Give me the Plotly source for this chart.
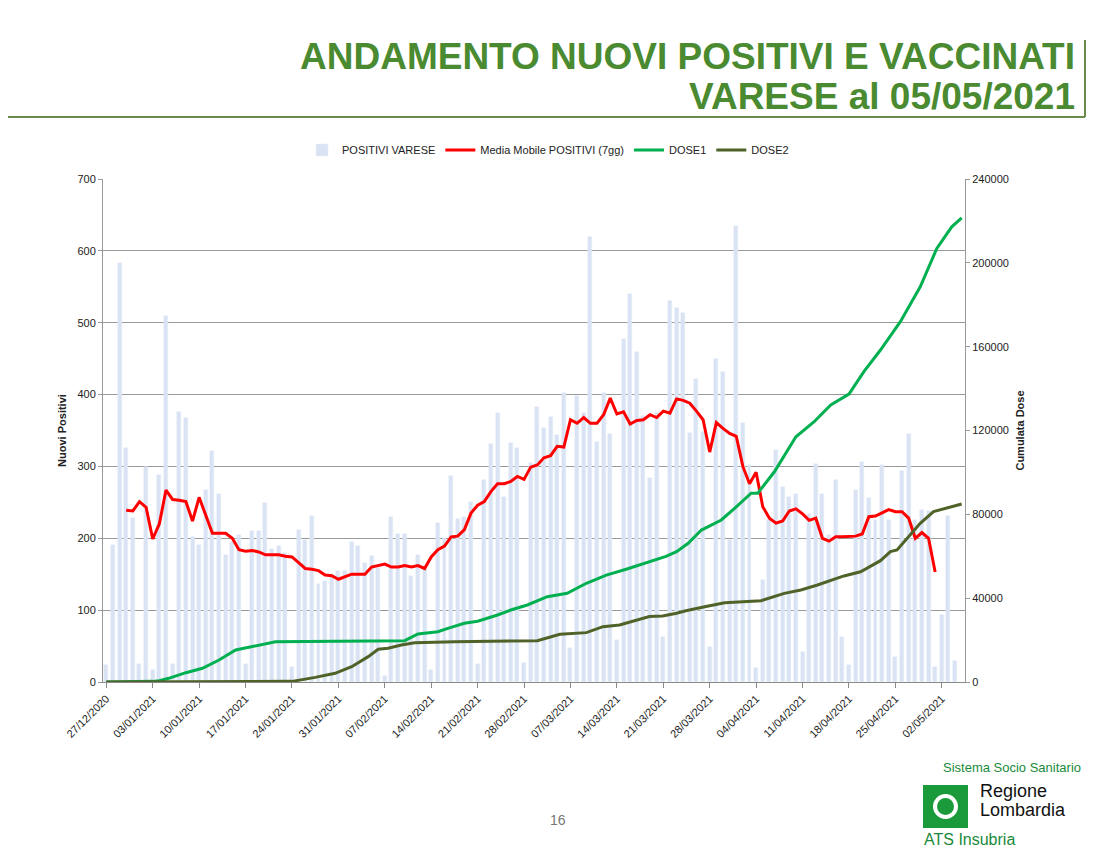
import plotly.graph_objects as go
import pandas as pd

base = pd.Timestamp("2020-12-27")

positivi = [24,191,583,326,228,25,299,17,288,509,25,376,367,202,190,267,321,261,177,195,
            204,25,210,210,249,185,189,180,21,211,198,231,136,140,150,155,155,195,189,166,
            175,158,8,230,206,206,148,177,160,17,221,200,287,227,230,250,25,281,331,374,
            257,333,326,27,305,383,354,369,344,402,47,398,374,619,334,402,345,58,477,540,
            459,370,284,374,62,530,521,514,347,421,348,49,449,431,197,634,361,302,20,142,
            225,323,272,257,261,42,234,303,261,205,281,62,24,267,306,256,225,302,225,35,
            294,345,225,240,238,21,93,231,29]

media_start = 3
media = [239,238,251,243,199,220,267,254,253,251,224,257,232,207,207,207,200,184,182,183,
         181,177,177,177,175,174,166,158,157,155,149,148,143,147,150,150,150,160,162,164,
         160,160,162,160,162,158,174,184,189,202,203,212,235,246,251,265,276,276,279,286,
         282,299,302,312,315,328,327,365,360,368,360,360,372,395,373,376,359,364,365,372,
         368,377,374,394,392,388,377,365,320,361,353,346,342,300,276,292,244,228,221,224,
         238,241,234,225,228,200,196,202,202,202,203,206,230,231,235,240,237,237,228,200,
         208,200,153]

dose1_days = [0,4,7,8,9.4,12,14.5,17,19.5,21.5,25.5,35,42.5,45,47,50,51.5,54,56,59,61,63.5,66.5,69.5,
              72.4,75.4,78.4,81.4,84.4,86,87.75,89.75,92.75,94.75,97.25,98.25,100.75,104,106.75,
              109.25,112,114.25,116.75,119.75,122.75,125.25,127.5,129]
dose1_vals = [0,100,300,600,1760,4440,6530,10500,15270,16550,19230,19500,19560,19700,22900,24000,25600,
              28000,29000,31970,34350,36740,40700,42300,47100,51000,53800,56700,59900,62200,66200,
              72500,77300,82900,90100,90100,100300,117000,124200,132200,137400,148100,158400,
              171900,188600,206900,217200,221500]

dose2_days = [0,28,31.5,34.5,37,39.5,41,42.5,44.5,46.5,52.5,65,68.4,72.4,74.9,77.4,81.9,83.9,86,87.4,
              90.25,93.25,98.75,102.25,104.75,107.25,111.25,113.75,116.75,118.25,119.25,122.75,
              124.75,129]
dose2_vals = [0,300,2200,4150,7300,12100,15600,16100,17650,18750,19230,19700,22750,23550,26400,
              27200,31200,31500,32800,34000,35900,37800,38800,42300,43900,46300,50600,52600,57900,
              62200,63000,75700,81300,84900]

tick_days = list(range(0, 127, 7))

def d(x):
    return base + pd.to_timedelta(x, unit="D")

W, H, OFF = 1097, 857, 8
def px(x): return (x - OFF) / W
def py(y): return 1 - (y - OFF) / H

fig = go.Figure()
fig.add_bar(x=[d(i) for i in range(len(positivi))], y=positivi, name="POSITIVI VARESE",
            marker_color="#dae3f3", width=0.6*86400000, yaxis="y")
fig.add_scatter(x=[d(media_start+i) for i in range(len(media))], y=media, mode="lines",
                name="Media Mobile POSITIVI (7gg)", line=dict(color="#ff0000", width=3), yaxis="y")
fig.add_scatter(x=[d(v) for v in dose1_days], y=dose1_vals, mode="lines", name="DOSE1",
                line=dict(color="#00b050", width=3), yaxis="y2")
fig.add_scatter(x=[d(v) for v in dose2_days], y=dose2_vals, mode="lines", name="DOSE2",
                line=dict(color="#4f6228", width=3), yaxis="y2")

fig.update_layout(
    width=W, height=H, paper_bgcolor="white", plot_bgcolor="white",
    margin=dict(l=0, r=0, t=0, b=0),
    font=dict(family="Liberation Sans, Arial", size=11, color="#222"),
    showlegend=True, bargap=0,
    legend=dict(orientation="h", x=px(548), xanchor="center", y=py(150), yanchor="middle",
                font=dict(size=11), bgcolor="rgba(0,0,0,0)"),
    xaxis=dict(domain=[px(103), px(965)], range=[d(-0.5), d(129.5)], automargin=False,
               tickvals=[d(t) for t in tick_days],
               ticktext=[d(t).strftime("%d/%m/%Y") for t in tick_days],
               tickangle=-45, showgrid=False, showline=True, linecolor="#888",
               ticks="outside", ticklen=5, tickcolor="#888", anchor="y"),
    yaxis=dict(domain=[py(682), py(179)], range=[0, 700], dtick=100, automargin=False,
               showgrid=True, gridcolor="#999", gridwidth=1, showline=True, linecolor="#999",
               ticks="outside", tickcolor="#999", ticklen=4,
               title=dict(text="<b>Nuovi Positivi</b>", font=dict(size=11), standoff=8)),
    yaxis2=dict(overlaying="y", side="right", range=[0, 240000], dtick=40000, automargin=False,
                showgrid=False, showline=True, linecolor="#999", tickformat="d",
                ticks="outside", tickcolor="#999", ticklen=4, anchor="x",
                title=dict(text="<b>Cumulata Dose</b>", font=dict(size=11), standoff=8)),
)

TG = "#4a8a30"
fig.add_annotation(xref="paper", yref="paper", x=px(1077), y=py(57), xanchor="right", yanchor="middle",
                   text="<b>ANDAMENTO NUOVI POSITIVI E VACCINATI</b>", showarrow=False,
                   font=dict(size=37, color=TG, family="Liberation Sans, Arial"))
fig.add_annotation(xref="paper", yref="paper", x=px(1077), y=py(97), xanchor="right", yanchor="middle",
                   text="<b>VARESE al 05/05/2021</b>", showarrow=False,
                   font=dict(size=37, color=TG, family="Liberation Sans, Arial"))
fig.add_shape(type="line", xref="paper", yref="paper", x0=0, x1=px(1085), y0=py(117), y1=py(117),
              line=dict(color="#6a8a4a", width=2))
fig.add_shape(type="line", xref="paper", yref="paper", x0=px(1085), x1=px(1085), y0=py(117), y1=py(40),
              line=dict(color="#6a8a4a", width=2))
fig.add_annotation(xref="paper", yref="paper", x=px(558), y=py(830), text="16", showarrow=False,
                   font=dict(size=14, color="#777"))
# logo
fig.add_annotation(xref="paper", yref="paper", x=px(1083), y=py(777), xanchor="right", text="Sistema Socio Sanitario",
                   showarrow=False, font=dict(size=13, color="#1a8a3a"))
fig.add_shape(type="rect", xref="paper", yref="paper", x0=px(923), x1=px(968), y0=py(828), y1=py(785),
              fillcolor="#1a9a3a", line=dict(width=0))
fig.add_shape(type="circle", xref="paper", yref="paper", x0=px(935), x1=px(956), y0=py(817), y1=py(796),
              fillcolor="rgba(0,0,0,0)", line=dict(color="white", width=4))
fig.add_annotation(xref="paper", yref="paper", x=px(978), y=py(803), xanchor="left", text="Regione",
                   showarrow=False, font=dict(size=18, color="#111"))
fig.add_annotation(xref="paper", yref="paper", x=px(978), y=py(822), xanchor="left", text="Lombardia",
                   showarrow=False, font=dict(size=18, color="#111"))
fig.add_annotation(xref="paper", yref="paper", x=px(922), y=py(850), xanchor="left", text="ATS Insubria",
                   showarrow=False, font=dict(size=16, color="#1a8a3a"))

fig.write_html("out.html")
